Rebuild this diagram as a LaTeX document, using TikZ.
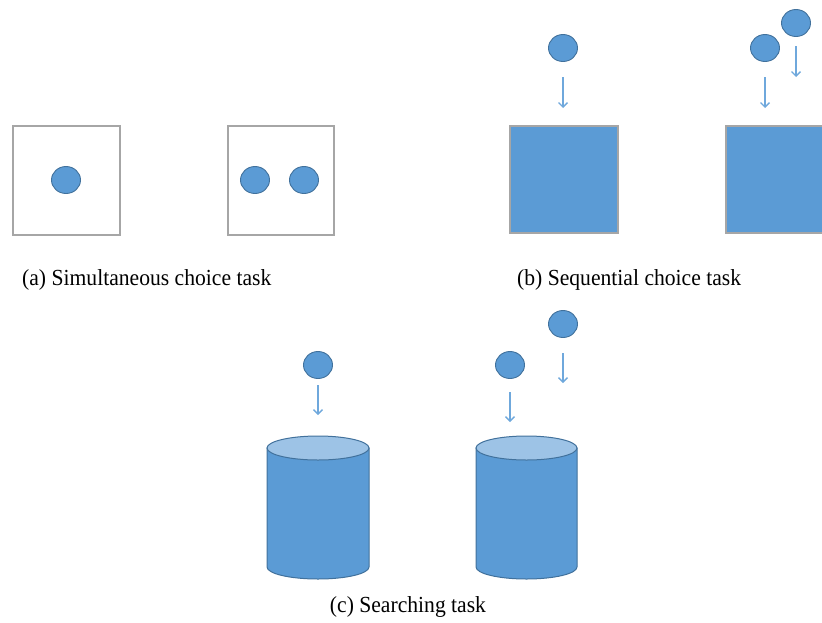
\documentclass[tikz,border=0pt]{standalone}
\usepackage{fontspec}
\setmainfont{Liberation Serif}
\usetikzlibrary{shapes.geometric,arrows.meta}
\definecolor{ballblue}{HTML}{5B9BD5}
\definecolor{balledge}{HTML}{41719C}
\definecolor{topblue}{HTML}{9DC3E6}
\definecolor{arrblue}{HTML}{6FA8DC}
\definecolor{boxgray}{HTML}{A6A6A6}
\tikzset{
  ball/.style={ellipse,draw=balledge,fill=ballblue,line width=0.9pt,minimum width=29pt,minimum height=27pt,inner sep=0pt},
  openbox/.style={draw=boxgray,fill=white,line width=1.3pt},
  fullbox/.style={draw=boxgray,fill=ballblue,line width=1.3pt},
  arr/.style={draw=arrblue,line width=1.4pt,-{Straight Barb[length=4.5pt,width=9pt,line width=1.4pt]}},
  cyl/.style={draw=balledge,fill=ballblue,line width=1pt},
  cyltop/.style={draw=balledge,fill=topblue,line width=1pt},
  lbl/.style={inner sep=0pt,font=\fontsize{23}{25}\selectfont}
}
\begin{document}
\begin{tikzpicture}[x=1pt,y=-1pt]
\useasboundingbox (0,0) rectangle (822,622);
% (a)
\draw[openbox] (13,126) rectangle (120,235);
\draw[openbox] (228,126) rectangle (334,235);
\node[ball] (a1) at (66,180) {};
\node[ball] (a2) at (255,180) {};
\node[ball] (a3) at (304,180) {};
\node[lbl,anchor=west] (la) at (22,280) {\scalebox{0.94}[1]{(a) Simultaneous choice task}};
% (b)
\draw[fullbox] (510,126) rectangle (618,233);
\draw[fullbox] (726,126) rectangle (830,233);
\node[ball] (b1) at (563,48) {};
\node[ball] (b2) at (765,48) {};
\node[ball] (b3) at (796,23) {};
\coordinate (b1s) at (563,77); \coordinate (b1e) at (563,108);
\coordinate (b2s) at (765,77); \coordinate (b2e) at (765,108);
\coordinate (b3s) at (796,46); \coordinate (b3e) at (796,77);
\draw[arr] (b1s) -- (b1e);
\draw[arr] (b2s) -- (b2e);
\draw[arr] (b3s) -- (b3e);
\node[lbl,anchor=west] (lb) at (517,280) {\scalebox{0.94}[1]{(b) Sequential choice task}};
% (c)
\draw[cyl] (267,448) -- (267,567) arc[start angle=180,end angle=0,x radius=51,y radius=12] -- (369,448) -- cycle;
\draw[cyltop] (318,448) ellipse[x radius=51,y radius=12];
\draw[cyl] (476,448) -- (476,567) arc[start angle=180,end angle=0,x radius=50.5,y radius=12] -- (577,448) -- cycle;
\draw[cyltop] (526.5,448) ellipse[x radius=50.5,y radius=12];
\node[ball] (c1) at (318,365) {};
\node[ball] (c2) at (510,365) {};
\node[ball] (c3) at (563,324) {};
\coordinate (c1s) at (318,385); \coordinate (c1e) at (318,415);
\coordinate (c2s) at (510,392); \coordinate (c2e) at (510,422);
\coordinate (c3s) at (563,353); \coordinate (c3e) at (563,383);
\draw[arr] (c1s) -- (c1e);
\draw[arr] (c2s) -- (c2e);
\draw[arr] (c3s) -- (c3e);
\node[lbl] (lc) at (408,607) {\scalebox{0.94}[1]{(c) Searching task}};
\end{tikzpicture}
\end{document}
